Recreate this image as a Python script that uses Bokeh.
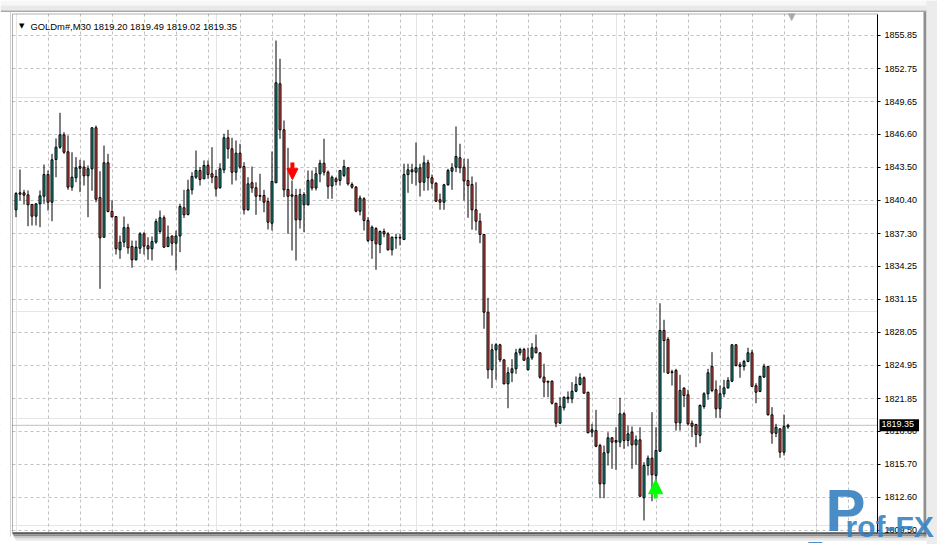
from bokeh.plotting import figure
from bokeh.models import (Range1d, FixedTicker, Span, Label, ColumnDataSource, Grid, Arrow,
                          NormalHead, LinearAxis, BoxAnnotation)
from bokeh.embed import file_html
from bokeh.resources import INLINE

# ---------------- data (GOLDm#, M30) ----------------
symbol = "GOLDm#,M30"
last_ohlc = ["1819.20", "1819.49", "1819.02", "1819.35"]
current_price = 1819.35

opens = [1839.53, 1841.12, 1841.12, 1840.93, 1840.03, 1838.93, 1840.09, 1840.80, 1842.83, 1840.24,
         1844.24, 1845.39, 1846.55, 1844.96, 1841.65, 1842.53, 1843.42, 1843.52, 1842.71, 1843.37,
         1847.21, 1840.67, 1836.96, 1843.93, 1839.37, 1838.90, 1835.78, 1836.50, 1837.86, 1836.09,
         1834.85, 1835.93, 1837.28, 1836.16, 1835.88, 1836.50, 1837.50, 1838.78, 1836.09, 1837.08,
         1836.40, 1837.08, 1839.72, 1839.09, 1841.40, 1842.58, 1843.21, 1842.43, 1843.68, 1842.90,
         1842.65, 1841.59, 1843.27, 1846.27, 1845.24, 1843.05, 1844.83, 1843.58, 1839.53, 1842.06,
         1841.59, 1840.87, 1840.87, 1840.31, 1838.27, 1842.06, 1851.33, 1847.02, 1841.43, 1840.93,
         1840.87, 1838.59, 1840.00, 1840.00, 1842.34, 1841.57, 1842.90, 1843.89, 1843.05, 1841.76,
         1842.43, 1842.27, 1842.74, 1843.46, 1841.90, 1841.65, 1839.40, 1840.56, 1838.53, 1836.65,
         1837.77, 1836.28, 1837.50, 1837.28, 1835.78, 1836.94, 1836.89, 1836.74, 1842.83, 1843.27,
         1843.05, 1843.46, 1842.11, 1843.93, 1842.53, 1842.02, 1840.47, 1840.24, 1841.87, 1843.14,
         1843.52, 1844.40, 1843.52, 1842.27, 1841.90, 1839.53, 1838.46, 1837.22, 1829.94, 1824.55,
         1826.42, 1826.89, 1825.48, 1823.24, 1824.27, 1824.64, 1826.14, 1826.45, 1824.55, 1825.67,
         1826.61, 1826.14, 1823.86, 1823.48, 1823.48, 1821.42, 1819.55, 1820.99, 1821.98, 1821.83,
         1822.54, 1823.17, 1823.80, 1822.45, 1818.71, 1818.86, 1817.46, 1813.87, 1816.78, 1818.18,
         1817.77, 1817.77, 1820.43, 1817.93, 1818.71, 1817.52, 1817.99, 1812.56, 1815.59, 1816.27,
         1814.65, 1816.92, 1828.23, 1827.39, 1824.36, 1824.48, 1819.58, 1822.83, 1822.21, 1819.55,
         1819.42, 1818.40, 1821.11, 1822.30, 1824.86, 1822.68, 1820.90, 1822.30, 1822.86, 1823.48,
         1826.89, 1825.02, 1824.86, 1825.33, 1826.14, 1823.05, 1822.52, 1823.86, 1824.86, 1820.33,
         1818.61, 1819.02, 1816.83, 1819.20]
highs = [1841.18, 1843.30, 1841.40, 1841.34, 1840.05, 1840.12, 1841.34, 1843.77, 1843.21, 1844.77,
         1846.21, 1848.61, 1846.80, 1846.49, 1844.92, 1844.46, 1844.21, 1844.15, 1843.68, 1847.24,
         1847.42, 1843.14, 1845.55, 1844.77, 1840.40, 1838.92, 1837.12, 1838.90, 1838.22, 1836.65,
         1836.65, 1837.43, 1837.43, 1836.96, 1837.03, 1838.69, 1839.46, 1839.00, 1838.06, 1837.10,
         1837.59, 1840.09, 1841.40, 1842.34, 1843.05, 1845.08, 1843.52, 1844.15, 1844.15, 1845.39,
         1843.27, 1843.89, 1846.65, 1847.02, 1846.27, 1846.02, 1845.71, 1843.99, 1842.58, 1843.58,
         1842.11, 1842.90, 1841.40, 1840.67, 1844.99, 1855.38, 1853.67, 1847.89, 1845.33, 1842.27,
         1841.50, 1841.50, 1841.18, 1843.21, 1843.21, 1843.52, 1844.21, 1846.18, 1843.21, 1842.74,
         1842.58, 1843.25, 1844.21, 1843.52, 1842.11, 1841.76, 1840.87, 1840.71, 1838.84, 1838.06,
         1837.90, 1837.59, 1837.77, 1837.43, 1837.03, 1837.28, 1837.28, 1843.84, 1843.84, 1843.84,
         1845.83, 1843.84, 1844.61, 1844.21, 1842.83, 1842.11, 1841.05, 1841.96, 1843.37, 1843.89,
         1847.33, 1845.71, 1844.31, 1844.31, 1842.65, 1842.11, 1839.21, 1837.25, 1831.29, 1826.98,
         1827.04, 1826.98, 1825.50, 1824.79, 1825.54, 1826.51, 1826.61, 1826.61, 1826.61, 1827.04,
         1827.85, 1826.16, 1825.11, 1823.50, 1823.55, 1821.44, 1821.98, 1822.05, 1822.52, 1823.39,
         1823.92, 1824.23, 1823.92, 1822.47, 1819.49, 1820.80, 1817.62, 1817.46, 1818.70, 1818.24,
         1819.17, 1821.93, 1820.58, 1819.33, 1819.24, 1818.40, 1819.17, 1815.90, 1816.52, 1820.58,
         1819.17, 1830.78, 1829.23, 1827.60, 1824.55, 1824.64, 1824.08, 1822.92, 1822.68, 1819.80,
         1819.49, 1821.30, 1822.45, 1824.64, 1826.20, 1823.55, 1823.08, 1823.61, 1823.86, 1826.92,
         1826.92, 1825.26, 1825.48, 1826.61, 1826.42, 1823.29, 1824.01, 1825.11, 1824.88, 1821.05,
         1819.49, 1819.04, 1820.36, 1819.49]
lows = [1838.84, 1840.40, 1840.03, 1837.99, 1838.06, 1838.06, 1837.90, 1840.09, 1839.46, 1838.46,
        1842.58, 1845.24, 1844.77, 1841.40, 1841.31, 1842.11, 1841.18, 1841.80, 1838.84, 1841.31,
        1840.24, 1832.13, 1836.96, 1839.30, 1838.84, 1835.34, 1834.94, 1836.03, 1835.41, 1834.10,
        1834.78, 1835.41, 1835.34, 1834.85, 1834.78, 1836.35, 1837.28, 1835.97, 1836.03, 1835.25,
        1833.85, 1835.56, 1838.76, 1839.00, 1840.96, 1842.43, 1841.80, 1842.43, 1842.43, 1842.02,
        1840.77, 1841.50, 1842.96, 1844.31, 1841.90, 1842.27, 1843.37, 1839.09, 1839.46, 1841.12,
        1839.06, 1840.40, 1839.30, 1837.69, 1837.59, 1842.06, 1846.17, 1840.71, 1837.28, 1835.72,
        1834.78, 1837.77, 1837.43, 1839.93, 1841.34, 1841.34, 1842.11, 1842.74, 1840.56, 1840.56,
        1841.80, 1841.80, 1842.58, 1841.80, 1841.50, 1839.30, 1839.00, 1837.59, 1836.50, 1834.94,
        1833.91, 1835.47, 1836.96, 1835.72, 1835.25, 1835.88, 1836.19, 1836.74, 1841.12, 1841.96,
        1841.80, 1840.77, 1841.31, 1841.34, 1841.50, 1840.31, 1839.53, 1839.53, 1841.80, 1841.40,
        1843.05, 1842.96, 1840.40, 1838.78, 1837.66, 1837.59, 1836.40, 1828.39, 1823.71, 1822.83,
        1823.61, 1825.26, 1823.17, 1820.95, 1823.39, 1824.17, 1825.89, 1825.40, 1824.48, 1825.48,
        1826.10, 1823.71, 1821.98, 1821.98, 1821.30, 1819.17, 1819.49, 1820.74, 1821.42, 1821.42,
        1822.45, 1823.08, 1822.30, 1818.61, 1818.24, 1817.30, 1812.52, 1812.52, 1815.59, 1815.28,
        1815.18, 1817.30, 1817.15, 1817.37, 1815.28, 1815.65, 1812.62, 1810.44, 1814.65, 1812.24,
        1814.02, 1816.90, 1824.27, 1824.17, 1823.08, 1818.86, 1818.86, 1821.05, 1819.33, 1818.24,
        1817.30, 1817.67, 1820.90, 1821.74, 1822.45, 1820.05, 1820.05, 1821.98, 1822.77, 1823.39,
        1824.86, 1823.80, 1824.48, 1825.26, 1822.96, 1821.42, 1822.45, 1823.80, 1820.27, 1817.62,
        1818.24, 1816.31, 1816.52, 1819.02]
closes = [1841.05, 1840.99, 1840.90, 1840.00, 1838.93, 1840.09, 1840.84, 1842.83, 1840.24, 1844.21,
          1845.39, 1846.55, 1844.92, 1841.65, 1842.58, 1843.46, 1843.58, 1842.71, 1843.37, 1847.21,
          1840.52, 1836.91, 1843.93, 1839.37, 1838.86, 1835.88, 1836.50, 1837.86, 1835.97, 1834.85,
          1836.03, 1837.28, 1836.12, 1835.88, 1836.56, 1838.43, 1838.78, 1836.03, 1836.96, 1836.40,
          1837.08, 1839.84, 1839.06, 1841.40, 1842.65, 1843.21, 1842.37, 1843.68, 1842.83, 1842.58,
          1841.50, 1843.37, 1846.27, 1845.24, 1843.05, 1844.83, 1843.52, 1839.53, 1841.96, 1841.57,
          1840.80, 1840.80, 1840.24, 1838.37, 1842.18, 1851.42, 1847.02, 1841.40, 1840.80, 1840.80,
          1838.59, 1840.96, 1840.96, 1842.27, 1841.57, 1842.90, 1843.89, 1843.05, 1841.73, 1842.58,
          1842.18, 1843.21, 1843.58, 1841.96, 1841.65, 1839.40, 1840.63, 1838.53, 1836.65, 1837.90,
          1836.35, 1837.50, 1837.28, 1835.78, 1836.96, 1836.89, 1836.94, 1842.83, 1843.27, 1843.09,
          1843.46, 1842.11, 1843.93, 1842.53, 1842.02, 1840.33, 1840.24, 1841.87, 1843.21, 1843.46,
          1844.52, 1843.46, 1842.23, 1841.80, 1839.53, 1838.46, 1837.22, 1829.94, 1824.55, 1826.42,
          1826.89, 1825.48, 1823.24, 1824.27, 1824.64, 1826.14, 1826.45, 1825.44, 1825.67, 1826.61,
          1826.14, 1823.86, 1823.39, 1823.39, 1821.42, 1819.55, 1821.11, 1821.98, 1821.83, 1822.54,
          1823.17, 1823.80, 1822.36, 1818.65, 1818.93, 1817.39, 1813.87, 1816.78, 1818.18, 1817.77,
          1817.93, 1820.43, 1817.93, 1818.55, 1817.52, 1817.99, 1812.71, 1815.59, 1816.27, 1814.72,
          1816.99, 1828.23, 1827.29, 1824.23, 1824.29, 1819.58, 1822.61, 1822.14, 1819.49, 1819.27,
          1818.49, 1821.21, 1822.30, 1824.27, 1822.61, 1820.90, 1822.30, 1822.86, 1823.55, 1826.89,
          1824.95, 1824.86, 1825.33, 1826.14, 1823.00, 1822.45, 1823.92, 1824.86, 1820.33, 1818.61,
          1819.17, 1816.83, 1819.24, 1819.35]

# trade signals (bar index, arrow tip price)
sell_signals_idx = [69.1]
sell_signals_price = [1842.35]
buy_signals_idx = [159.9]
buy_signals_price = [1814.25]

# price scale labels
tick_labels = ["1855.85", "1852.75", "1849.65", "1846.60", "1843.50", "1840.40", "1837.30", "1834.25",
               "1831.15", "1828.05", "1824.95", "1821.85", "1818.80", "1815.70", "1812.60", "1809.50"]
tick_values = [float(t) for t in tick_labels]

# ---------------- layout / styles ----------------
W, H = 937, 544
BAR_PX = 4.0            # pixels per bar
BAR0_PX = 15.5          # pixel position of bar 0
PX_PER_PRICE = 1 / 0.093636
TOP_PRICE = 1859.127    # price at the top pixel row


def X(px):
    return (px - BAR0_PX) / BAR_PX


def Y(py):
    return TOP_PRICE - py / PX_PER_PRICE


FRAME_L, FRAME_R, FRAME_T, FRAME_B = 12, 877, 13.5, 532
BULL = "#1e9e92"
BEAR = "#ee5148"
GRID = "#c0c0c0"
FONT = "Liberation Sans"
LOGO = "#3580c0"

n = len(opens)
idx = list(range(n))
src = ColumnDataSource(dict(
    x=idx, high=highs, low=lows,
    top=[max(o, c) for o, c in zip(opens, closes)],
    bottom=[min(o, c) for o, c in zip(opens, closes)],
    color=[BULL if c >= o else BEAR for o, c in zip(opens, closes)],
))

p = figure(width=W, height=H, output_backend="svg", toolbar_location=None,
           x_range=Range1d(X(0), X(W)), y_range=Range1d(Y(H), Y(0)),
           x_axis_location=None, y_axis_location=None, min_border=0)
p.background_fill_color = "white"
p.border_fill_color = "white"
p.outline_line_color = None

# grids
ygrid = Grid(dimension=1, ticker=FixedTicker(ticks=tick_values),
             grid_line_color=GRID, grid_line_dash="3 3")
xgrid = Grid(dimension=0, ticker=FixedTicker(ticks=list(range(8, 209, 8))),
             grid_line_color=GRID, grid_line_dash="3 3")
p.add_layout(ygrid)
p.add_layout(xgrid)

# current price line
p.add_layout(Span(location=current_price, dimension="width", line_color=GRID,
                  line_width=1, level="underlay"))


def box(l, r, t, b, color, level="glyph"):
    p.add_layout(BoxAnnotation(left=X(l), right=X(r), top=Y(t), bottom=Y(b),
                               fill_color=color, fill_alpha=1.0, line_color=None, level=level))


# areas outside the chart frame (hide grid there)
box(0, FRAME_L - 0.5, 0, H, "white")
box(FRAME_R, W, 0, H, "white")
box(0, W, 0, FRAME_T, "white")
box(0, W, FRAME_B, H, "white")
# window decoration
box(0, W, 0, 5, "#f7f7f7")
box(0, W, 5, 10, "#e9e9e9")
box(0, W, 10, 11.5, "#a8a8a8")
box(9.5, 10.5, 11.5, 536, "#d0d0d0")
box(923, 926, 11.5, 537, "#8e8e8e")
box(926, W, 0, H, "#ececec")
box(FRAME_L, 926, FRAME_B, 534, "#5c5c5c")
box(FRAME_L + 1, 926, 534, 536, "#8f8f8f")
box(FRAME_L + 2, 926, 536, 538, "#c9c9c9")
box(FRAME_L + 3, 926, 538, 540, "#e6e6e6")

# candles
p.segment(x0="x", y0="low", x1="x", y1="high", source=src, line_color="black", line_width=1)
p.vbar(x="x", width=0.5, top="top", bottom="bottom", source=src,
       fill_color="color", line_color="black", line_width=1)

# chart frame
p.add_layout(BoxAnnotation(left=X(FRAME_L), right=X(FRAME_R), top=Y(FRAME_T), bottom=Y(FRAME_B),
                           fill_color=None, line_color="black", line_width=1, level="guide"))

# price scale (right)
ax = LinearAxis(fixed_location=X(FRAME_R), bounds=(Y(FRAME_B), Y(FRAME_T)),
                ticker=FixedTicker(ticks=tick_values),
                major_label_overrides={v: s for v, s in zip(tick_values, tick_labels)},
                major_label_text_font=FONT, major_label_text_font_size="9px",
                major_label_text_color="black", major_tick_in=0, major_tick_out=3,
                major_tick_line_color="black", minor_tick_line_color=None,
                major_label_standoff=4, axis_line_color="black")
p.add_layout(ax, "right")

# signal arrows
for xi, yi in zip(sell_signals_idx, sell_signals_price):
    p.add_layout(Arrow(end=NormalHead(size=11, fill_color="#ff0000", line_color="#ff0000"),
                       x_start=xi, y_start=yi + 1.6, x_end=xi, y_end=yi,
                       line_color="#ff0000", line_width=4))
for xi, yi in zip(buy_signals_idx, buy_signals_price):
    p.add_layout(Arrow(end=NormalHead(size=14, fill_color="#00ff00", line_color="#00ff00"),
                       x_start=xi, y_start=yi - 1.75, x_end=xi, y_end=yi,
                       line_color="#00ff00", line_width=4))

# header text
p.add_layout(Label(x=18.5, y=H - 25.5, x_units="screen", y_units="screen", text="\u25bc",
                   text_font="DejaVu Sans", text_font_size="7px", text_color="black",
                   text_baseline="alphabetic"))
p.add_layout(Label(x=30, y=H - 26, x_units="screen", y_units="screen",
                   text=symbol + "  " + " ".join(last_ohlc),
                   text_font=FONT, text_font_size="9.4px", text_color="black",
                   text_baseline="alphabetic"))

# chart shift marker
p.add_layout(Label(x=791, y=H - 10, x_units="screen", y_units="screen", text="\u25bc",
                   text_font="DejaVu Sans", text_font_size="10px", text_color="#a8a8a8",
                   text_align="center", text_baseline="top"))

# current price tag on the scale
p.add_layout(Label(x=879, y=current_price, x_units="screen", y_units="data",
                   text=f"{current_price:.2f}", text_font=FONT, text_font_size="9px",
                   text_color="white", background_fill_color="black",
                   text_align="left", text_baseline="middle", padding=(2, 5, 2, 4)))

# watermark logo
p.add_layout(Label(x=808, y=H - 544, x_units="screen", y_units="screen", text="_",
                   text_font=FONT, text_font_style="bold", text_font_size="24px",
                   text_color=LOGO, text_alpha=0.9))
p.add_layout(Label(x=825, y=H - 543, x_units="screen", y_units="screen", text="P",
                   text_font=FONT, text_font_style="bold", text_font_size="60px",
                   text_color=LOGO, text_alpha=0.9))
p.add_layout(Label(x=845, y=H - 542, x_units="screen", y_units="screen", text="rof-FX",
                   text_font=FONT, text_font_style="bold", text_font_size="30px",
                   text_color=LOGO, text_alpha=0.9))

open("out.html", "w").write(file_html(p, INLINE))
